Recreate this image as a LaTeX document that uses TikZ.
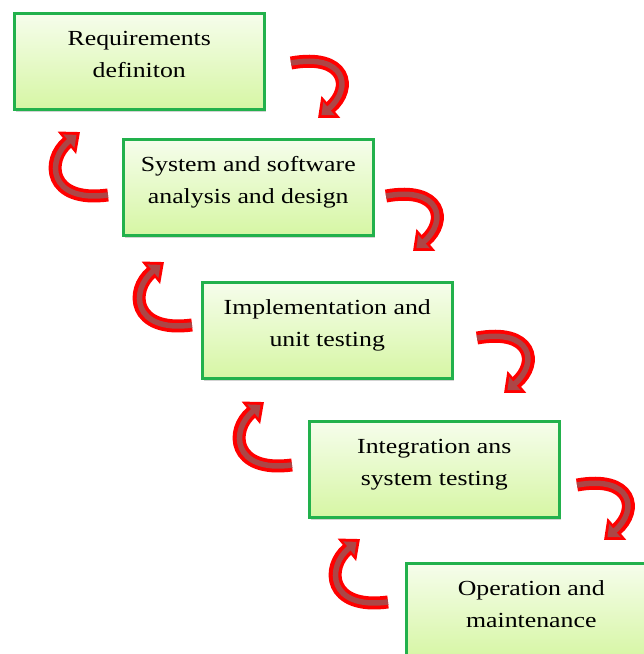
\documentclass[tikz,border=0pt]{standalone}
\usepackage{fontspec}
\setmainfont{Liberation Serif}[FakeStretch=1.2]
\usepackage{xcolor}
\usepackage{tikz}
\usetikzlibrary{arrows.meta,shadows}

\definecolor{boxgreen}{RGB}{34,177,76}
\definecolor{boxtop}{RGB}{246,253,236}
\definecolor{boxbottom}{RGB}{214,246,164}
\definecolor{turnred}{RGB}{255,0,0}
\definecolor{turnin}{RGB}{172,70,70}

\tikzset{
    phase/.style={draw=boxgreen, line width=2.5pt, top color=boxtop, bottom color=boxbottom,
        minimum width=250pt, align=center, inner xsep=0pt, inner ysep=0pt,
        text height=64pt, text depth=32pt, anchor=north west,
        font=\fontsize{21.5}{31.7}\selectfont,
        drop shadow={shadow xshift=2pt, shadow yshift=-3pt, opacity=0.35}},
    turn/.style={draw=turnin, line width=5.5pt, shorten >=4.5pt, -{Triangle[length=10pt,width=17pt]},
        preaction={draw=turnred, line width=13pt, shorten >=0pt, -{Triangle[length=17pt,width=28pt]}}}
}

\begin{document}
\begin{tikzpicture}[x=1pt, y=-1pt]
            \useasboundingbox (0,0) rectangle (644,654);
            \clip (0,0) rectangle (644,654);
            % Phases
            \node[phase] (req) at (13,12) {Requirements\\definiton};
            \node[phase] (design) at (122,138) {System and software\\analysis and design};
            \node[phase] (impl) at (201,281) {Implementation and\\unit testing};
            \node[phase] (integ) at (308,420) {Integration ans\\system testing};
            \node[phase] (oper) at (405,562) {Operation and\\maintenance};

            % Arrows down to the next phase (right side)
            \foreach \x/\y in {291/63, 386/196, 477/338, 577/485}
            {
                \draw[turn, shift={(\x,\y)}] (0,0) .. controls (55,-10) and (62,25) .. (27,55);
            }
            % Arrows back up to the previous phase (left side)
            \foreach \x/\y in {108/195, 192/325, 292/465, 388/602}
            {
                \draw[turn, shift={(\x,\y)}] (0,0) .. controls (-60,8) and (-62,-35) .. (-28,-63);
            }
\end{tikzpicture}
\end{document}
